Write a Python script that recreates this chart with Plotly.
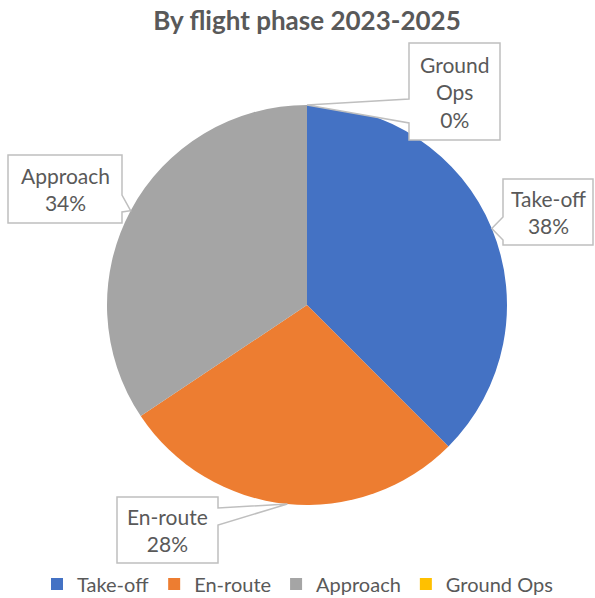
import math
import plotly.graph_objects as go

# ---- data ----
phases = ["Take-off", "En-route", "Approach", "Ground Ops"]
counts = [12, 9, 11, 0]
colors = ["#4472C4", "#ED7D31", "#A5A5A5", "#FFC000"]
title_text = "By flight phase 2023-2025"

# ---- layout constants ----
W, H = 595, 598
CX, CY, R = 307, 305, 200          # pie centre / radius in pixels
TXT = "#595959"
BORDER = "#BFBFBF"
FONT = "Lato"

def px(x):
    return x / W

def py(y):
    return 1 - y / H

# callout boxes (pixel layout): x0, y0, x1, y1, side of wedge, wedge base y0, y1
boxes = {
    "Take-off":   (503, 179, 593, 245, "left", 217, 240),
    "En-route":   (117, 497, 218, 563, "right", 508, 525),
    "Approach":   (8, 155, 122, 223, "right", 195, 212),
    "Ground Ops": (409, 43, 500, 140, "left", 99, 123),
}
label_lines = {"Ground Ops": "Ground<br>Ops"}

fig = go.Figure()
fig.add_trace(go.Pie(
    labels=phases,
    values=counts,
    marker=dict(colors=colors, line=dict(color="white", width=0)),
    sort=False,
    direction="clockwise",
    rotation=0,
    textinfo="none",
    hoverinfo="label+percent",
    domain=dict(x=[px(CX - R), px(CX + R)], y=[py(CY + R), py(CY - R)]),
))

total = sum(counts)
cum = 0.0
shapes = []
annotations = []
for name, v in zip(phases, counts):
    frac = v / total
    theta = 2 * math.pi * (cum + frac / 2)
    cum += frac
    ax_ = CX + R * math.sin(theta)
    ay_ = CY - R * math.cos(theta)
    x0, y0, x1, y1, side, wy0, wy1 = boxes[name]
    if side == "left":
        pts = [(x0, y0), (x1, y0), (x1, y1), (x0, y1), (x0, wy1), (ax_, ay_), (x0, wy0)]
    else:
        pts = [(x0, y0), (x1, y0), (x1, wy0), (ax_, ay_), (x1, wy1), (x1, y1), (x0, y1)]
    path = "M " + " L ".join(f"{px(a):.5f},{py(b):.5f}" for a, b in pts) + " Z"
    shapes.append(dict(type="path", xref="paper", yref="paper", path=path,
                       fillcolor="white", line=dict(color=BORDER, width=1.5), layer="above"))
    pct = int(frac * 100 + 0.5)
    lbl = label_lines.get(name, name)
    annotations.append(dict(
        x=px((x0 + x1) / 2), y=py((y0 + y1) / 2), xref="paper", yref="paper",
        xanchor="center", yanchor="middle", showarrow=False, align="center",
        text=f"{lbl}<br>{pct}%", font=dict(family=FONT, size=21, color=TXT),
    ))

fig.update_layout(
    width=W, height=H,
    margin=dict(l=0, r=0, t=0, b=0, autoexpand=False),
    paper_bgcolor="white",
    plot_bgcolor="white",
    title=dict(text=f"<b>{title_text}</b>", x=px(307), xanchor="center",
               y=py(21), yanchor="middle", yref="paper",
               font=dict(family=FONT, size=26, color=TXT)),
    showlegend=True,
    legend=dict(orientation="h", x=0.5, xanchor="center", y=-0.009, yanchor="bottom",
                font=dict(family=FONT, size=20, color=TXT), traceorder="normal"),
    shapes=shapes,
    annotations=annotations,
)

fig.write_html("out.html", config={"displayModeBar": False},
               post_script="document.body.style.margin='0';document.body.style.overflow='hidden';")
